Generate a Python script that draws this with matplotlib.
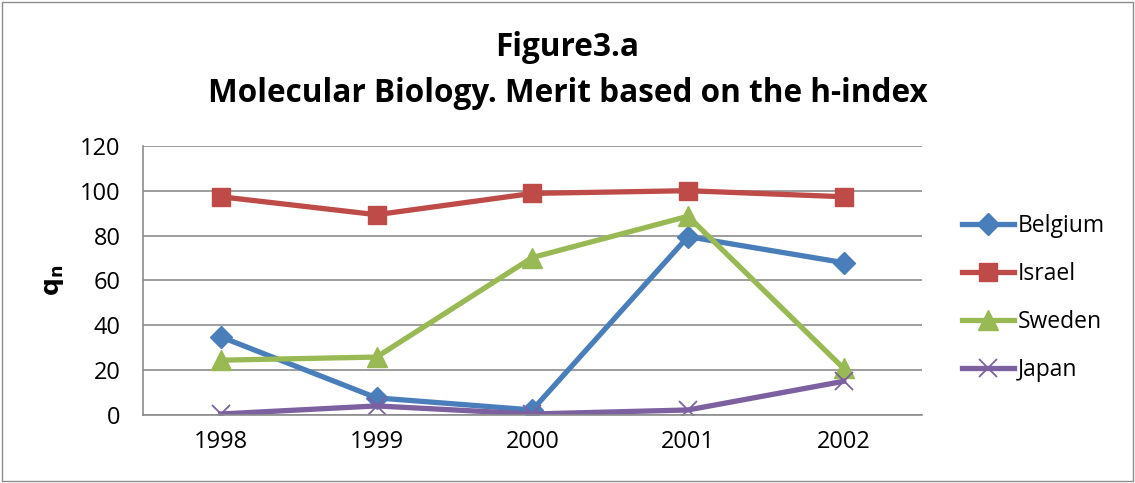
import matplotlib.pyplot as plt
from matplotlib.patches import Rectangle

years = ['1998', '1999', '2000', '2001', '2002']
belgium = [34.8, 7.6, 2.2, 79.5, 67.9]
israel = [97.3, 89.3, 98.8, 100.0, 97.3]
sweden = [24.4, 25.8, 70.2, 88.6, 20.7]
japan = [0.4, 4.0, 0.4, 2.2, 15.0]

plt.rcParams['font.family'] = ['Open Sans', 'DejaVu Sans']

fig = plt.figure(figsize=(11.35, 4.83), dpi=100)
ax = fig.add_axes([0.126, 0.141, 0.686, 0.557])

x = range(len(years))
ax.plot(x, belgium, color='#4a7ebb', lw=3.8, marker='D', ms=11, label='Belgium')
ax.plot(x, israel, color='#be4b48', lw=3.8, marker='s', ms=13, label='Israel')
ax.plot(x, sweden, color='#98b954', lw=3.8, marker='^', ms=14, label='Sweden')
ax.plot(x, japan, color='#7d60a0', lw=3.8, marker='x', ms=13, mew=1.3, label='Japan')

ax.set_xlim(-0.5, 4.5)
ax.set_ylim(0, 120)
ax.set_yticks(range(0, 121, 20))
ax.set_xticks(list(x))
ax.set_xticklabels(years)
ax.tick_params(labelsize=17, length=0)
ax.tick_params(axis='y', pad=16)
ax.tick_params(axis='x', pad=11)
ax.grid(axis='y', color='#8c8c8c', lw=1.2)
ax.set_axisbelow(True)
for s in ['top', 'right']:
    ax.spines[s].set_visible(False)
for s in ['left', 'bottom']:
    ax.spines[s].set_color('#8c8c8c')
    ax.spines[s].set_linewidth(1.2)

ax.set_ylabel(r'$\mathbf{q_n}$', fontsize=18, labelpad=10)
fig.suptitle('Figure3.a\nMolecular Biology. Merit based on the h-index',
             fontsize=22.7, fontweight='bold', y=0.935, linespacing=1.5)

ax.legend(loc='center left', bbox_to_anchor=(1.025, 0.435), frameon=False,
          fontsize=16.5, labelspacing=1.05, handlelength=2.3, handletextpad=0.15)

fig.patches.append(Rectangle((0.002, 0.004), 0.996, 0.992, transform=fig.transFigure,
                             fill=False, edgecolor='#8c8c8c', lw=1))

fig.savefig('out.png', dpi=100)
